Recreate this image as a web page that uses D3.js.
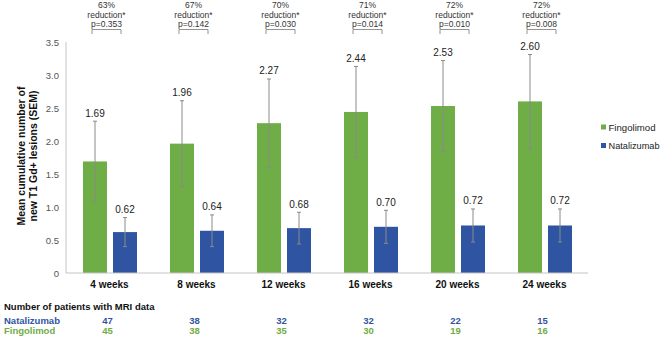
<!DOCTYPE html>
<html>
<head>
<meta charset="utf-8">
<script src="https://cdn.jsdelivr.net/npm/d3@7"></script>
<style>
  body { margin: 0; background: #fff; }
  text { font-family: "Liberation Sans", Arial, sans-serif; }
</style>
</head>
<body>
<div id="chart"></div>
<script>
// data
var weeks = ["4 weeks", "8 weeks", "12 weeks", "16 weeks", "20 weeks", "24 weeks"]
var series = ["Fingolimod", "Natalizumab"]
var fingolimod = [1.69, 1.96, 2.27, 2.44, 2.53, 2.60]
var natalizumab = [0.62, 0.64, 0.68, 0.70, 0.72, 0.72]
var fingolimodSem = [0.61, 0.65, 0.67, 0.69, 0.69, 0.71]
var natalizumabSem = [0.22, 0.24, 0.24, 0.25, 0.25, 0.25]
var reductions = ["63%", "67%", "70%", "71%", "72%", "72%"]
var pValues = ["p=0.353", "p=0.142", "p=0.030", "p=0.014", "p=0.010", "p=0.008"]
var nNatalizumab = [47, 38, 32, 32, 22, 15]
var nFingolimod = [45, 38, 35, 30, 19, 16]
var yTicks = [0, 0.5, 1.0, 1.5, 2.0, 2.5, 3.0, 3.5]

var colors = {Fingolimod: "#6fad46", Natalizumab: "#2f55a2"}

var width = 661, height = 339
var plot = {left: 66, right: 588, top: 42, bottom: 273}

var svg = d3.select("#chart")
  .append("svg")
    .attr("width", width)
    .attr("height", height)

var x = d3.scaleBand()
    .domain(weeks)
    .range([plot.left, plot.right])

var x1 = d3.scaleBand()
    .domain(series)
    .range([17, 71])
    .paddingInner(0.2)

var y = d3.scaleLinear()
    .domain([0, 3.5])
    .range([plot.bottom, plot.top])

var rows = weeks.map(function(w, i) {
  return {
    week: w,
    bars: [
      {s: "Fingolimod", v: fingolimod[i], e: fingolimodSem[i]},
      {s: "Natalizumab", v: natalizumab[i], e: natalizumabSem[i]}
    ]
  }
})

// y axis
svg.append("line")
  .attr("x1", plot.left).attr("x2", plot.left)
  .attr("y1", y(3.5)).attr("y2", y(0))
  .attr("stroke", "#c4c4c4")

svg.append("g")
  .selectAll("text")
  .data(yTicks)
  .enter()
  .append("text")
    .attr("x", 59)
    .attr("y", function(d) { return y(d) + 3.5 })
    .attr("text-anchor", "end")
    .attr("font-size", "9.5px")
    .attr("fill", "#555")
    .text(function(d) { return d === 0 ? "0" : d3.format(".1f")(d) })

// bars
var groups = svg.append("g")
  .selectAll("g")
  .data(rows)
  .enter()
  .append("g")
    .attr("transform", function(d) { return "translate(" + x(d.week) + ",0)" })

groups.selectAll("rect")
  .data(function(d) { return d.bars })
  .enter()
  .append("rect")
    .attr("x", function(d) { return x1(d.s) })
    .attr("width", x1.bandwidth())
    .attr("y", function(d) { return y(d.v) })
    .attr("height", function(d) { return y(0) - y(d.v) })
    .attr("fill", function(d) { return colors[d.s] })

// error bars
var err = groups.selectAll("g.err")
  .data(function(d) { return d.bars })
  .enter()
  .append("g")
    .attr("class", "err")
    .attr("transform", function(d) { return "translate(" + (x1(d.s) + x1.bandwidth() / 2) + ",0)" })

err.append("line")
  .attr("y1", function(d) { return y(d.v - d.e) })
  .attr("y2", function(d) { return y(d.v + d.e) })
  .attr("stroke", "#8a8a8a")
  .attr("stroke-width", 1)

err.append("line")
  .attr("x1", -2).attr("x2", 2)
  .attr("y1", function(d) { return y(d.v + d.e) })
  .attr("y2", function(d) { return y(d.v + d.e) })
  .attr("stroke", "#8a8a8a")

err.append("line")
  .attr("x1", -2).attr("x2", 2)
  .attr("y1", function(d) { return y(d.v - d.e) })
  .attr("y2", function(d) { return y(d.v - d.e) })
  .attr("stroke", "#8a8a8a")

err.append("text")
  .attr("y", function(d) { return y(d.v + d.e) - 4.5 })
  .attr("text-anchor", "middle")
  .attr("font-size", "10px")
  .attr("fill", "#222")
  .text(function(d) { return d3.format(".2f")(d.v) })

// x axis
svg.append("line")
  .attr("x1", plot.left).attr("x2", plot.right)
  .attr("y1", y(0)).attr("y2", y(0))
  .attr("stroke", "#c4c4c4")

svg.append("g")
  .selectAll("text")
  .data(weeks)
  .enter()
  .append("text")
    .attr("x", function(d) { return x(d) + x.bandwidth() / 2 })
    .attr("y", 288)
    .attr("text-anchor", "middle")
    .attr("font-size", "10px")
    .attr("font-weight", "bold")
    .attr("fill", "#111")
    .text(function(d) { return d })

// reduction annotations
var ann = svg.append("g")
  .selectAll("g")
  .data(weeks)
  .enter()
  .append("g")
    .attr("transform", function(d) { return "translate(" + (x(d) + x.bandwidth() / 2 - 3) + ",0)" })

ann.append("text")
  .attr("y", 8)
  .attr("text-anchor", "middle")
  .attr("font-size", "8.5px")
  .attr("fill", "#333")
  .text(function(d, i) { return reductions[i] })

ann.append("text")
  .attr("y", 17.5)
  .attr("text-anchor", "middle")
  .attr("font-size", "8.5px")
  .attr("fill", "#333")
  .text("reduction*")

ann.append("text")
  .attr("y", 27)
  .attr("text-anchor", "middle")
  .attr("font-size", "8.5px")
  .attr("fill", "#333")
  .text(function(d, i) { return pValues[i] })

ann.append("path")
  .attr("d", "M-14.5,34V29.5H14.5V34")
  .attr("fill", "none")
  .attr("stroke", "#777")
  .attr("stroke-width", 0.8)

// y title
var yt = svg.append("text")
  .attr("transform", "translate(25,156) rotate(-90)")
  .attr("text-anchor", "middle")
  .attr("font-size", "10.5px")
  .attr("font-weight", "bold")
  .attr("fill", "#111")
yt.append("tspan").attr("x", 0).attr("dy", 0).text("Mean cumulative number of")
yt.append("tspan").attr("x", 0).attr("dy", 12).text("new T1 Gd+ lesions (SEM)")

// legend
var leg = svg.append("g")
  .selectAll("g")
  .data(series)
  .enter()
  .append("g")
    .attr("transform", function(d, i) { return "translate(601," + (124.5 + i * 18.5) + ")" })

leg.append("rect")
  .attr("width", 5).attr("height", 5)
  .attr("fill", function(d) { return colors[d] })

leg.append("text")
  .attr("x", 7.5).attr("y", 6)
  .attr("font-size", "9.5px")
  .attr("fill", "#222")
  .attr("textLength", function(d) { return d === "Natalizumab" ? 51 : 47 })
  .attr("lengthAdjust", "spacingAndGlyphs")
  .text(function(d) { return d })

// patient counts table
svg.append("text")
  .attr("x", 4).attr("y", 309.5)
  .attr("font-size", "9.5px")
  .attr("font-weight", "bold")
  .attr("fill", "#111")
  .text("Number of patients with MRI data")

var tableRows = [
  {name: "Natalizumab", counts: nNatalizumab, y: 323.5},
  {name: "Fingolimod", counts: nFingolimod, y: 334}
]

tableRows.forEach(function(r) {
  svg.append("text")
    .attr("x", 4).attr("y", r.y)
    .attr("font-size", "9.5px")
    .attr("font-weight", "bold")
    .attr("fill", colors[r.name])
    .text(r.name)
  svg.append("g")
    .selectAll("text")
    .data(r.counts)
    .enter()
    .append("text")
      .attr("x", function(d, i) { return x(weeks[i]) + x.bandwidth() / 2 - 2 })
      .attr("y", r.y)
      .attr("text-anchor", "middle")
      .attr("font-size", "9.5px")
      .attr("font-weight", "bold")
      .attr("fill", colors[r.name])
      .text(function(d) { return d })
})
</script>
</body>
</html>
